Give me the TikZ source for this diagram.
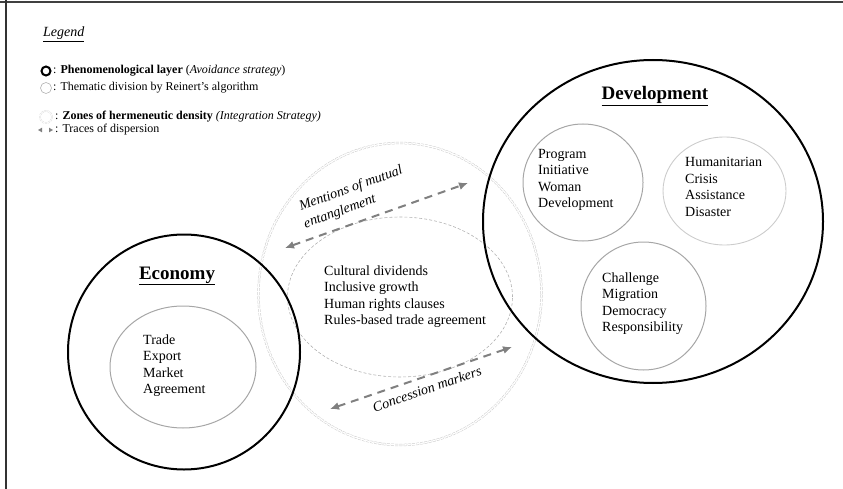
\documentclass[tikz,border=0pt]{standalone}
\usepackage{fontspec}
\setmainfont{Liberation Serif}
\usetikzlibrary{shapes.geometric,arrows.meta}
\tikzset{
  phen/.style={ellipse, draw=black, line width=2pt, inner sep=0pt},
  them/.style={ellipse, draw=gray!70, line width=1pt, inner sep=0pt},
  themlight/.style={ellipse, draw=gray!40, line width=0.9pt, inner sep=0pt},
  zone/.style={ellipse, draw=gray!40, line width=0.5pt, double=white, double distance=1.3pt, dash pattern=on 3pt off 1.2pt, inner sep=0pt},
  inner/.style={ellipse, draw=gray!60, line width=0.6pt, dash pattern=on 3pt off 2pt, inner sep=0pt},
  trace/.style={draw=gray, line width=2pt, dash pattern=on 8pt off 6pt, {Latex[length=9pt,width=8pt]}-{Latex[length=9pt,width=8pt]}},
  words/.style={anchor=west, align=left, font=\fontsize{14}{16.5}\selectfont, inner sep=0pt},
  title/.style={font=\fontsize{19}{22}\selectfont\bfseries, inner sep=0pt},
  leg/.style={anchor=west, font=\fontsize{12}{14}\selectfont, inner sep=0pt},
  lbl/.style={font=\fontsize{14}{16}\selectfont\itshape, inner sep=0pt}
}
\begin{document}
\begin{tikzpicture}[x=1pt,y=-1pt]
\useasboundingbox (0,0) rectangle (843,489);
% frame
\draw[line width=1.3pt, black!75] (0,2) -- (843,2);
\draw[line width=1.5pt, black!80] (6,0) -- (6,489);

% legend
\node[anchor=west, font=\fontsize{14}{16}\selectfont\itshape, inner sep=0pt] (legtitle) at (43,34) {\underline{Legend}};
\node[circle, draw=black, line width=2pt, minimum size=9pt, inner sep=0pt] (lg1) at (46,71) {};
\node[leg] (lt1) at (53,71) {: \textbf{Phenomenological layer} (\textit{Avoidance strategy})};
\node[circle, draw=gray!60, line width=0.6pt, minimum size=11pt, inner sep=0pt] (lg2) at (46,88) {};
\node[leg] (lt2) at (53,88) {: Thematic division by Reinert’s algorithm};
\node[circle, draw=gray!30, line width=0.4pt, double=white, double distance=0.8pt, dash pattern=on 2pt off 1pt, minimum size=12pt, inner sep=0pt] (lg3) at (46,117) {};
\node[leg] (lt3) at (55,117) {: \textbf{Zones of hermeneutic density} \textit{(Integration Strategy)}};
\coordinate (lg4a) at (40,130);
\coordinate (lg4b) at (51,130);
\fill[gray] (lg4a) ++(-2,0) -- ++(4,-2.3) -- ++(0,4.6) -- cycle;
\fill[gray] (lg4b) ++(2,0) -- ++(-4,-2.3) -- ++(0,4.6) -- cycle;
\node[leg] (lt4) at (55,130) {: Traces of dispersion};

% zone of hermeneutic density
\node[zone, minimum width=283pt, minimum height=302pt] (zone) at (400,294) {};
\node[inner, minimum width=225pt, minimum height=160pt] (core) at (400,297) {};

% economy
\node[phen, minimum width=232pt, minimum height=235pt] (eco) at (184,352) {};
\node[title] (ecot) at (177,276) {\underline{Economy}};
\node[them, minimum width=146pt, minimum height=122pt] (ecoin) at (183,367) {};
\node[words] (ecow) at (143,365.5) {Trade\\Export\\Market\\Agreement};

% development
\node[phen, minimum width=340pt, minimum height=323pt] (dev) at (653,221.5) {};
\node[title] (devt) at (655,96) {\underline{Development}};
\node[them, minimum width=120pt, minimum height=117pt] (d1) at (583,182.5) {};
\node[words] (d1w) at (538,180) {Program\\Initiative\\Woman\\Development};
\node[themlight, minimum width=123pt, minimum height=108pt] (d2) at (724.5,191) {};
\node[words] (d2w) at (685,187) {Humanitarian\\Crisis\\Assistance\\Disaster};
\node[them, minimum width=125pt, minimum height=128pt] (d3) at (643.5,306) {};
\node[words] (d3w) at (602,303.5) {Challenge\\Migration\\Democracy\\Responsibility};

% core words
\node[words] (corew) at (324,296.5) {Cultural dividends\\Inclusive growth\\Human rights clauses\\Rules-based trade agreement};

% traces
\coordinate (t1a) at (285,248);
\coordinate (t1b) at (468,183);
\draw[trace] (t1a) -- (t1b);
\node[lbl, rotate=20] (t1l) at (351,189) {Mentions of mutual};
\node[lbl, rotate=20] (t1m) at (340,212) {entanglement};
\coordinate (t2a) at (330,409);
\coordinate (t2b) at (512,347);
\draw[trace] (t2a) -- (t2b);
\node[lbl, rotate=19] (t2l) at (427,389) {Concession markers};
\end{tikzpicture}
\end{document}
